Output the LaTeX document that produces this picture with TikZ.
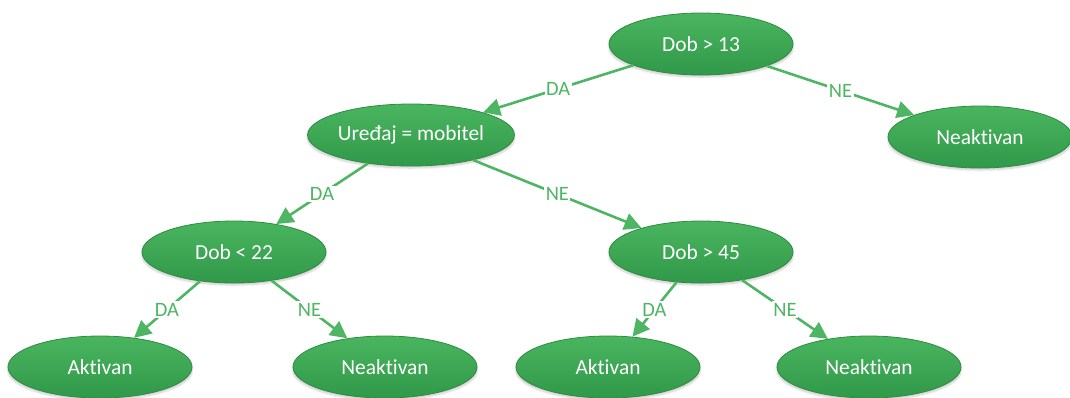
\documentclass[tikz,border=0pt]{standalone}
\usepackage{fontspec}
\setmainfont{Carlito}[Ligatures=NoCommon]
\usetikzlibrary{arrows.meta,shadows.blur,shapes.geometric}
\definecolor{leaftop}{HTML}{4AB55F}
\definecolor{leafbot}{HTML}{30994A}
\definecolor{rimgreen}{HTML}{2E8C41}
\definecolor{linkgreen}{HTML}{4DB563}
\tikzset{
  test/.style={ellipse, minimum width=184bp, minimum height=62bp, inner sep=0pt,
    top color=leaftop, bottom color=leafbot, draw=rimgreen, line width=0.8bp,
    text=white, font=\fontsize{21.5}{24}\selectfont,
    blur shadow={shadow blur steps=6, shadow xshift=0bp, shadow yshift=-2bp, shadow opacity=20, shadow blur extra rounding=2bp}},
  link/.style={draw=linkgreen, line width=2.6bp, -{Triangle[length=17bp,width=17bp]}},
  answer/.style={fill=white, text=linkgreen, inner sep=1.5bp, font=\fontsize{20.5}{22}\selectfont}
}
\begin{document}
\begin{tikzpicture}[x=1bp,y=-1bp]
  \useasboundingbox (0,0) rectangle (1070,397);

  % decision nodes and leaves
  \node[test] (root)  at (701,44)  {Dob > 13};
  \node[test] (dev)   at (411,135) {Uređaj = mobitel};
  \node[test] (out1)  at (980,137) {Neaktivan};
  \node[test] (young) at (234,252) {Dob < 22};
  \node[test] (old)   at (701,252) {Dob > 45};
  \node[test] (a1)    at (100,367) {Aktivan};
  \node[test] (n1)    at (385,367) {Neaktivan};
  \node[test] (a2)    at (608,367) {Aktivan};
  \node[test] (n2)    at (869,367) {Neaktivan};

  % branches with their answers
  \draw[link] (root)  -- node[answer] {DA} (dev);
  \draw[link] (root)  -- node[answer] {NE} (out1);
  \draw[link] (dev)   -- node[answer] {DA} (young);
  \draw[link] (dev)   -- node[answer] {NE} (old);
  \draw[link] (young) -- node[answer] {DA} (a1);
  \draw[link] (young) -- node[answer] {NE} (n1);
  \draw[link] (old)   -- node[answer] {DA} (a2);
  \draw[link] (old)   -- node[answer] {NE} (n2);
\end{tikzpicture}
\end{document}
